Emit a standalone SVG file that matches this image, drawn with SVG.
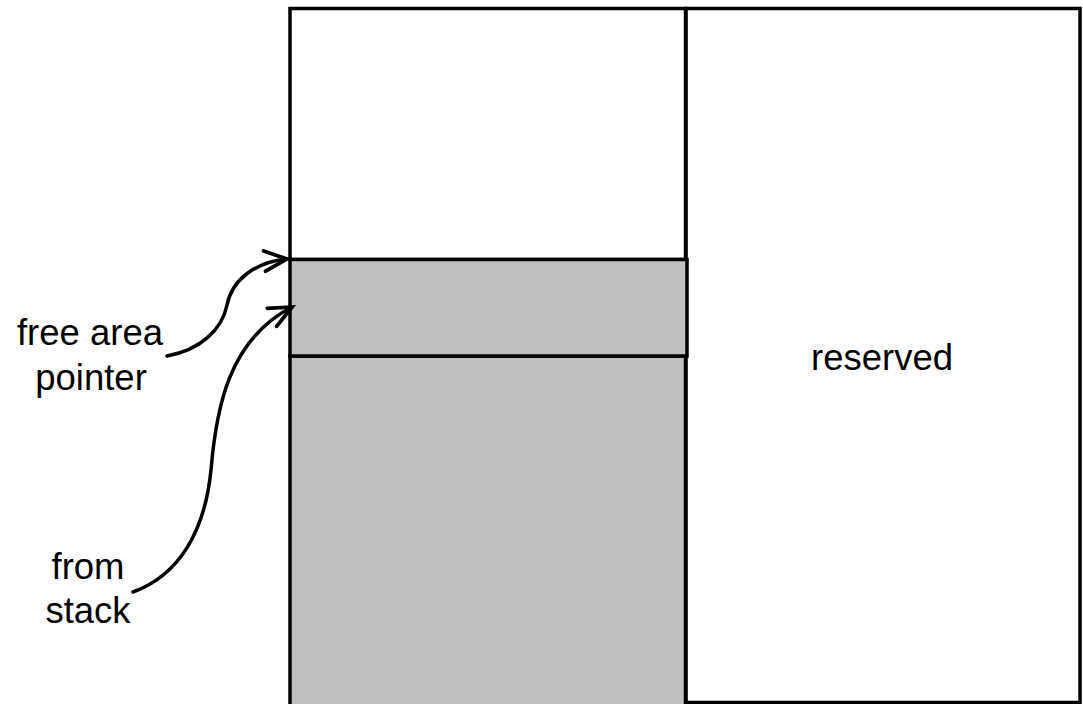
<svg xmlns="http://www.w3.org/2000/svg" width="1083" height="704" viewBox="0 0 1083 704">
<style>
.box{stroke:#000;stroke-width:3.5;}
.white{fill:#fff;}
.gray{fill:#c0c0c0;}
.lbl{font-family:"Liberation Sans",Arial,sans-serif;font-size:36.5px;fill:#000;text-anchor:middle;}
.conn{fill:none;stroke:#000;stroke-width:3.5;stroke-linecap:round;}
</style>
<defs>
<marker id="open" markerUnits="userSpaceOnUse" markerWidth="30" markerHeight="30" viewBox="-24 -12 28 24" refX="0" refY="0" orient="auto">
<path d="M-21,-9.5 L0,0 L-21,9.5" fill="none" stroke="#000" stroke-width="3.5" stroke-linecap="round" stroke-linejoin="miter"/>
</marker>
</defs>
<rect width="1083" height="704" fill="#fff"/>
<g id="reserved">
<rect class="box white" x="686" y="8.5" width="394" height="694"/>
<text class="lbl" x="882" y="370">reserved</text>
</g>
<g id="top-area">
<rect class="box white" x="290" y="8.5" width="395.5" height="251"/>
</g>
<g id="stack-area">
<rect class="box gray" x="290" y="356" width="395.5" height="352"/>
</g>
<g id="free-area">
<rect class="box gray" x="290" y="259.5" width="397" height="96.5"/>
</g>
<g id="label-free-area-pointer">
<text class="lbl" x="90" y="345">free area</text>
<text class="lbl" x="91" y="390">pointer</text>
</g>
<g id="label-from-stack">
<text class="lbl" x="88" y="579">from</text>
<text class="lbl" x="88" y="623">stack</text>
</g>
<g id="connectors">
<path class="conn" d="M167,356 C200,350 222,330 227,305 C232,280 255,262 287,259" marker-end="url(#open)"/>
<path class="conn" d="M133,592 C180,575 205,530 211,470 C216,410 228,340 292,307" marker-end="url(#open)"/>
</g>
</svg>
